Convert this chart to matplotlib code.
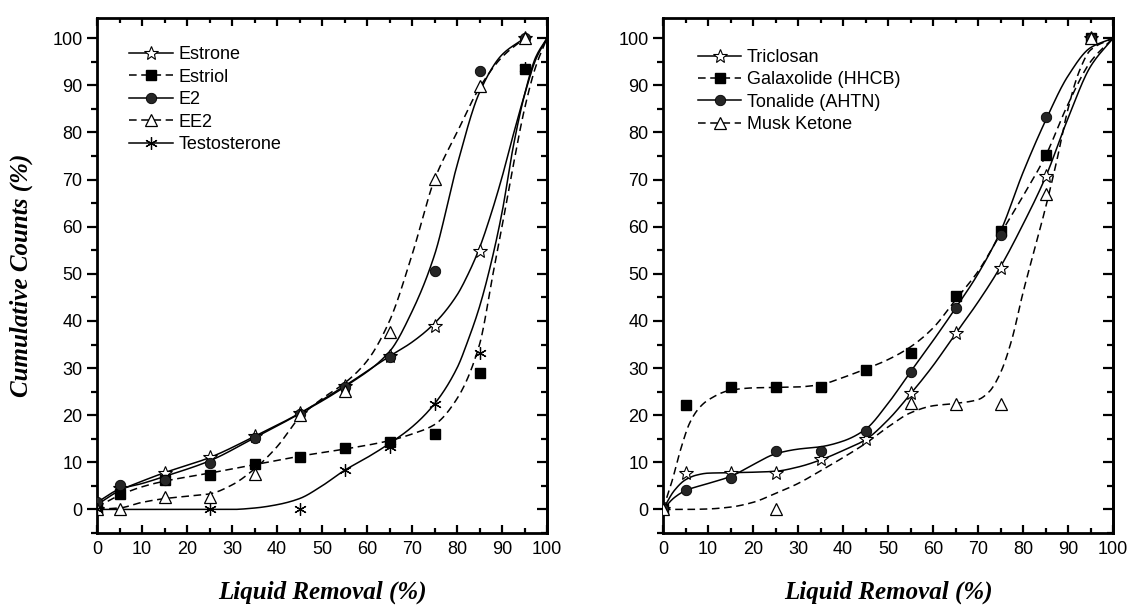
import numpy as np
import matplotlib
matplotlib.use('Agg')
import matplotlib.pyplot as plt
from matplotlib.lines import Line2D
from matplotlib.ticker import MultipleLocator

plt.rcParams['font.family'] = 'Liberation Sans'

# ---- left panel: measured points ----
estrone_x = [0, 5, 15, 25, 35, 45, 55, 65, 75, 85, 95]
estrone_y = [0, 4.5, 7.7, 11.1, 15.5, 20.4, 26.1, 32.5, 39.0, 54.8, 100]
estriol_x = [0, 5, 15, 25, 35, 45, 55, 65, 75, 85, 95]
estriol_y = [0, 3.2, 6.2, 7.4, 9.7, 11.2, 13.0, 14.4, 16.0, 28.9, 93.4]
e2_x = [0, 5, 15, 25, 35, 45, 55, 65, 75, 85, 95]
e2_y = [1.5, 5.1, 6.3, 9.8, 15.2, 20.3, 26.0, 32.3, 50.6, 93.0, 100]
ee2_x = [0, 5, 15, 25, 35, 45, 55, 65, 75, 85, 95]
ee2_y = [0, 0, 2.6, 2.6, 7.6, 20.1, 25.2, 37.6, 70.1, 89.9, 100]
testo_x = [0, 25, 45, 55, 65, 75, 85, 95]
testo_y = [0, 0, 0, 8.4, 13.3, 22.4, 33.1, 93.6]

# ---- left panel: fitted curves ----
estrone_cx = [0, 5, 10, 15, 25, 35, 45, 55, 65, 70, 75, 80, 82.5, 85, 87.5, 90, 92.5, 95, 97.5, 100]
estrone_cy = [1.0, 4.0, 6.0, 7.8, 11, 15.5, 20.4, 26.2, 32.5, 35.5, 39.5, 45.5, 50, 55.5, 62.5, 70.5, 79.5, 88, 95.5, 100]
estriol_cx = [0, 5, 10, 15, 25, 35, 45, 55, 65, 70, 75, 80, 85, 88, 90, 92.5, 95, 97.5, 100]
estriol_cy = [0.5, 3.0, 4.8, 6.0, 7.7, 9.5, 11.3, 12.8, 14.6, 16, 18, 23.5, 35, 50, 60, 73, 85, 94, 100]
e2_cx = [0, 5, 10, 15, 25, 35, 45, 55, 65, 70, 75, 80, 85, 90, 95]
e2_cy = [1.5, 4.3, 5.5, 7.0, 10.3, 15.2, 20.3, 26, 33.5, 42, 54, 73, 88.5, 96.5, 100]
ee2_cx = [0, 5, 10, 15, 20, 25, 30, 35, 40, 45, 50, 55, 60, 65, 70, 75, 80, 85, 90, 95]
ee2_cy = [0, 0.3, 1.5, 2.3, 2.8, 3.3, 5.2, 8.6, 13.3, 19.5, 23.5, 26.8, 31.5, 40, 54, 70, 80, 89.5, 96, 100]
testo_cx = [0, 10, 20, 30, 35, 40, 45, 50, 55, 60, 65, 70, 75, 80, 82.5, 85, 87.5, 90, 92.5, 95, 97.5, 100]
testo_cy = [0, 0, 0, 0, 0.3, 1.0, 2.3, 5, 8.3, 11, 14, 17.5, 22.4, 30, 36, 43, 52, 63, 77, 88, 96, 100]

# ---- right panel: measured points ----
triclosan_x = [0, 5, 15, 25, 35, 45, 55, 65, 75, 85, 95]
triclosan_y = [0, 7.7, 7.7, 7.7, 10.7, 14.9, 24.7, 37.5, 51.3, 70.7, 100]
galax_x = [0, 5, 15, 25, 35, 45, 55, 65, 75, 85, 95]
galax_y = [0, 22.2, 25.9, 25.9, 25.9, 29.6, 33.3, 45.2, 59.0, 75.3, 100]
tonal_x = [0, 5, 15, 25, 35, 45, 55, 65, 75, 85, 95]
tonal_y = [0, 4.1, 6.6, 12.5, 12.5, 16.7, 29.2, 42.7, 58.3, 83.3, 100]
musk_x = [0, 25, 55, 65, 75, 85, 95]
musk_y = [0, 0, 22.5, 22.4, 22.4, 66.9, 100]

# ---- right panel: fitted curves ----
triclosan_cx = [0, 2.5, 5, 7.5, 10, 15, 20, 25, 30, 35, 40, 45, 50, 55, 60, 65, 70, 75, 80, 85, 90, 95, 100]
triclosan_cy = [0, 4, 6.3, 7.3, 7.7, 7.8, 7.9, 8.1, 9.0, 10.5, 12.5, 14.8, 19, 24.5, 30.5, 37.3, 44, 51.5, 60.5, 70.5, 83, 94, 100]
galax_cx = [0, 2, 4, 6, 8, 10, 15, 20, 25, 30, 35, 40, 45, 50, 55, 60, 65, 70, 75, 80, 85, 90, 95, 100]
galax_cy = [0, 6, 13, 18.5, 21.5, 23.2, 25.3, 25.8, 25.9, 26, 26.5, 28, 29.8, 31.8, 34.5, 38.5, 44.5, 50.5, 58.5, 66.5, 75, 86, 95, 100]
tonal_cx = [0, 2.5, 5, 10, 15, 20, 25, 30, 35, 40, 45, 50, 55, 60, 65, 70, 75, 80, 85, 90, 95, 100]
tonal_cy = [0, 2.5, 4.0, 5.5, 7.0, 9.5, 11.8, 12.8, 13.3, 14.5, 17, 22.5, 29.2, 35.8, 42.7, 50, 59, 71.5, 82.5, 92, 98, 100]
musk_cx = [0, 5, 10, 15, 20, 25, 30, 35, 40, 45, 50, 55, 60, 65, 70, 72.5, 75, 77.5, 80, 82.5, 85, 87.5, 90, 92.5, 95, 100]
musk_cy = [0, 0, 0.1, 0.5, 1.5, 3.4, 5.5, 8.2, 11, 14, 17.5, 20.5, 22, 22.5, 23.3, 25, 29, 36, 46, 55, 64, 74, 85, 93, 97.5, 100]

x_ticks = [0, 10, 20, 30, 40, 50, 60, 70, 80, 90, 100]
y_ticks = [0, 10, 20, 30, 40, 50, 60, 70, 80, 90, 100]


def smooth(x, y, n=400):
    # monotone cubic hermite through the curve knots, only to draw a smooth line
    x = np.asarray(x, float)
    y = np.asarray(y, float)
    h = np.diff(x)
    d = np.diff(y) / h
    m = np.zeros_like(y)
    m[0], m[-1] = d[0], d[-1]
    for k in range(1, len(x) - 1):
        if d[k - 1] * d[k] > 0:
            w1 = 2 * h[k] + h[k - 1]
            w2 = h[k] + 2 * h[k - 1]
            m[k] = (w1 + w2) / (w1 / d[k - 1] + w2 / d[k])
    xs = np.linspace(x[0], x[-1], n)
    i = np.clip(np.searchsorted(x, xs) - 1, 0, len(x) - 2)
    t = (xs - x[i]) / h[i]
    ys = ((2 * t**3 - 3 * t**2 + 1) * y[i] + (t**3 - 2 * t**2 + t) * h[i] * m[i]
          + (-2 * t**3 + 3 * t**2) * y[i + 1] + (t**3 - t**2) * h[i] * m[i + 1])
    return xs, ys


DASH = (0, (5, 3))
star = dict(marker='*', ms=10, mfc='white', mec='black', mew=0.8)
square = dict(marker='s', ms=6.5, mfc='black', mec='black')
ball = dict(marker='o', ms=7.5, mfc='#262626', mec='black', mew=0.6)
tri = dict(marker='^', ms=8, mfc='white', mec='black', mew=0.9)
aster = dict(marker=(6, 2, 0), ms=9, mec='black', mew=0.9)

fig = plt.figure(figsize=(11.37, 6.08), dpi=100)
ax1 = fig.add_axes([97 / 1137, 75 / 608, 450 / 1137, 515 / 608])
ax2 = fig.add_axes([663 / 1137, 75 / 608, 450 / 1137, 515 / 608])

left = [
    ('Estrone', estrone_x, estrone_y, estrone_cx, estrone_cy, '-', star),
    ('Estriol', estriol_x, estriol_y, estriol_cx, estriol_cy, DASH, square),
    ('E2', e2_x, e2_y, e2_cx, e2_cy, '-', ball),
    ('EE2', ee2_x, ee2_y, ee2_cx, ee2_cy, DASH, tri),
    ('Testosterone', testo_x, testo_y, testo_cx, testo_cy, '-', aster),
]
right = [
    ('Triclosan', triclosan_x, triclosan_y, triclosan_cx, triclosan_cy, '-', star),
    ('Galaxolide (HHCB)', galax_x, galax_y, galax_cx, galax_cy, DASH, square),
    ('Tonalide (AHTN)', tonal_x, tonal_y, tonal_cx, tonal_cy, '-', ball),
    ('Musk Ketone', musk_x, musk_y, musk_cx, musk_cy, DASH, tri),
]

for ax, series, lx, ly in [(ax1, left, 0.072, 0.945), (ax2, right, 0.078, 0.94)]:
    handles = []
    for name, px, py, cx, cy, ls, mk in series:
        sx, sy = smooth(cx, cy)
        ax.plot(sx, sy, color='black', lw=1.1, ls=ls, zorder=2)
        ax.plot(px, py, ls='none', zorder=3, **mk)
        handles.append(Line2D([], [], color='black', lw=1.1, ls=ls, label=name, **mk))
    ax.legend(handles=handles, loc='upper left', bbox_to_anchor=(lx, ly), frameon=False,
              fontsize=13, handlelength=2.4, handletextpad=0.3, labelspacing=0.3,
              borderpad=0, borderaxespad=0, numpoints=1)

    ax.set_xlim(0, 100)
    ax.set_ylim(-5, 104.3)
    ax.set_xticks(x_ticks)
    ax.set_yticks(y_ticks)
    ax.xaxis.set_minor_locator(MultipleLocator(5))
    ax.yaxis.set_minor_locator(MultipleLocator(5))
    for sp in ax.spines.values():
        sp.set_linewidth(2)
    ax.tick_params(axis='x', which='both', direction='in', top=True, width=1.6, labelsize=13, pad=6)
    ax.tick_params(axis='x', which='major', length=6)
    ax.tick_params(axis='x', which='minor', length=3.5)
    ax.tick_params(axis='y', which='both', direction='out', width=1.6, labelsize=13)
    ax.tick_params(axis='y', which='major', length=7)
    ax.tick_params(axis='y', which='minor', length=4)
    sec = ax.secondary_yaxis('right')
    sec.set_yticks(y_ticks)
    sec.yaxis.set_minor_locator(MultipleLocator(5))
    sec.tick_params(which='both', direction='in', width=1.6, labelright=False)
    sec.tick_params(which='major', length=7)
    sec.tick_params(which='minor', length=4)
    sec.spines['right'].set_linewidth(2)
    ax.set_xlabel('Liquid Removal (%)', fontfamily='Liberation Serif', fontweight='bold',
                  fontstyle='italic', fontsize=18, labelpad=16)

ax1.set_ylabel('Cumulative Counts (%)', fontfamily='Liberation Serif', fontweight='bold',
               fontstyle='italic', fontsize=18, labelpad=14)

fig.savefig('out.png', dpi=100)
